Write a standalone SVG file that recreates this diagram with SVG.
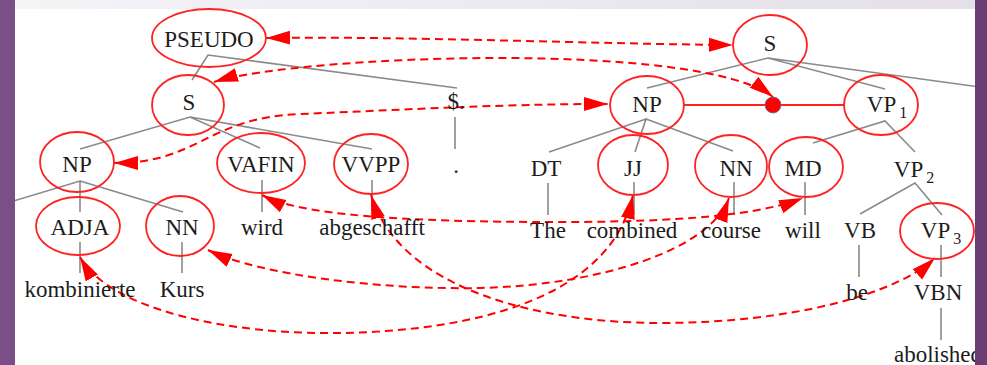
<svg xmlns="http://www.w3.org/2000/svg" width="987" height="365" viewBox="0 0 987 365">
<defs>
<linearGradient id="band" x1="0" x2="1" y1="0" y2="0"><stop offset="0" stop-color="#f5f4f7"/><stop offset="1" stop-color="#e4dfe9"/></linearGradient>
<marker id="ae" markerUnits="userSpaceOnUse" markerWidth="24" markerHeight="16" viewBox="0 0 24 16" refX="24" refY="8" orient="auto"><path d="M0,1 L24,8 L0,15 z" fill="#ff0000"/></marker>
<marker id="as" markerUnits="userSpaceOnUse" markerWidth="24" markerHeight="16" viewBox="0 0 24 16" refX="0" refY="8" orient="auto"><path d="M24,1 L0,8 L24,15 z" fill="#ff0000"/></marker>
<style>
.t{font-family:"Liberation Serif","DejaVu Serif",serif;font-size:23px;fill:#1c1c1c;text-anchor:middle}
.sub{font-size:16px}
.e{fill:none;stroke:#f22;stroke-width:1.8}
.tree{stroke:#8a8a8a;stroke-width:1.6;fill:none}
.d{fill:none;stroke:#f00;stroke-width:2;stroke-dasharray:8 5;marker-start:url(#as);marker-end:url(#ae)}
</style>
</defs>
<rect x="0" y="0" width="987" height="365" fill="#ffffff"/>
<rect x="0" y="0" width="987" height="9" fill="url(#band)"/>

<g id="connectors">
  <g class="tree">
    <path d="M192,80 L208,55 L457,88"/>
    <path d="M80,149 L190,117 L260,148 M190,117 L372,149"/>
    <path d="M0,205 L80,181 L80,212 M80,181 L183,212"/>
    <path d="M80,242 V273 M182,242 V273 M262,180 V212 M372,180 V212 M455,117 V149"/>
    <path d="M647,88 L768,58 L885,89 M768,58 L987,88"/>
    <path d="M549,152 L646,119 L635,152 M646,119 L733,151"/>
    <path d="M813,143 L885,121 L915,152"/>
    <path d="M860,214 L915,183 L942,215"/>
    <path d="M548,183 V215 M634,182 V215 M734,182 V215 M805,182 V215"/>
    <path d="M859,245 V277 M941,245 V277 M941,308 V340"/>
  </g>
  <path d="M684,105 H844" stroke="#f22" stroke-width="1.8"/>
  <path class="d" d="M266,38 C400,36 600,44 733,45"/>
  <path class="d" d="M214,82 C300,55 700,40 773,97"/>
  <path class="d" d="M114,163 C200,163 205,118 300,114 C400,110 500,104 608,104"/>
  <path class="d" d="M262,195 C300,215 400,222 560,222 C680,222 760,215 803,198"/>
  <path class="d" d="M208,250 C260,275 380,290 480,288 C600,285 710,250 729,198"/>
  <path class="d" d="M80,257 C110,310 230,335 340,333 C470,331 610,300 633,195"/>
  <path class="d" d="M371,195 C400,290 540,323 660,323 C790,323 895,295 935,258"/>
</g>

<g id="n-pseudo"><ellipse class="e" cx="209" cy="38" rx="57" ry="29"/><text class="t" x="209" y="47">PSEUDO</text></g>
<g id="n-s-de"><ellipse class="e" cx="188" cy="105" rx="36" ry="30"/><text class="t" x="189" y="110">S</text></g>
<g id="n-dollar"><text class="t" x="456" y="109">$.</text></g>
<g id="n-np-de"><ellipse class="e" cx="77" cy="162" rx="37" ry="30"/><text class="t" x="77" y="172">NP</text></g>
<g id="n-vafin"><ellipse class="e" cx="261" cy="163" rx="44" ry="30"/><text class="t" x="261" y="172">VAFIN</text></g>
<g id="n-vvpp"><ellipse class="e" cx="371" cy="164" rx="37" ry="30"/><text class="t" x="371" y="172">VVPP</text></g>
<g id="n-period"><text class="t" x="456" y="173">.</text></g>
<g id="n-adja"><ellipse class="e" cx="78" cy="226" rx="42" ry="29"/><text class="t" x="80" y="235">ADJA</text></g>
<g id="n-nn-de"><ellipse class="e" cx="180" cy="226" rx="34" ry="30"/><text class="t" x="182" y="235">NN</text></g>
<g id="n-wird"><text class="t" x="262" y="235">wird</text></g>
<g id="n-abgeschafft"><text class="t" x="372" y="235">abgeschafft</text></g>
<g id="n-kombinierte"><text class="t" x="80" y="297">kombinierte</text></g>
<g id="n-kurs"><text class="t" x="182" y="297">Kurs</text></g>

<g id="n-s-en"><ellipse class="e" cx="770" cy="45" rx="37" ry="30"/><text class="t" x="770" y="51">S</text></g>
<g id="n-np-en"><ellipse class="e" cx="647" cy="105" rx="37" ry="29"/><text class="t" x="647" y="112">NP</text></g>
<g id="n-dot"><circle cx="773" cy="105" r="8" fill="#ff0000" stroke="#5b6fb0" stroke-width="0.8"/></g>
<g id="n-vp1"><ellipse class="e" cx="881" cy="105" rx="37" ry="30"/><text class="t" x="887" y="112">VP<tspan class="sub" dx="3" dy="6">1</tspan></text></g>
<g id="n-dt"><text class="t" x="546" y="176">DT</text></g>
<g id="n-jj"><ellipse class="e" cx="633" cy="165" rx="35" ry="30"/><text class="t" x="633" y="176">JJ</text></g>
<g id="n-nn-en"><ellipse class="e" cx="731" cy="166" rx="36" ry="31"/><text class="t" x="736" y="176">NN</text></g>
<g id="n-md"><ellipse class="e" cx="806" cy="167" rx="37" ry="30"/><text class="t" x="803" y="176">MD</text></g>
<g id="n-vp2"><text class="t" x="914" y="177">VP<tspan class="sub" dx="3" dy="6">2</tspan></text></g>
<g id="n-the"><text class="t" x="548" y="238">The</text></g>
<g id="n-combined"><text class="t" x="632" y="238">combined</text></g>
<g id="n-course"><text class="t" x="731" y="238">course</text></g>
<g id="n-will"><text class="t" x="803" y="238">will</text></g>
<g id="n-vb"><text class="t" x="860" y="238">VB</text></g>
<g id="n-vp3"><ellipse class="e" cx="937" cy="231" rx="37" ry="28"/><text class="t" x="941" y="238">VP<tspan class="sub" dx="3" dy="6">3</tspan></text></g>
<g id="n-be"><text class="t" x="857" y="300">be</text></g>
<g id="n-vbn"><text class="t" x="938" y="300">VBN</text></g>
<g id="n-abolished"><text class="t" x="938" y="362">abolished</text></g>

<rect x="0" y="0" width="15" height="365" fill="#7a4e86"/>
<rect x="975" y="0" width="12" height="365" fill="#6c3d72"/>
</svg>
